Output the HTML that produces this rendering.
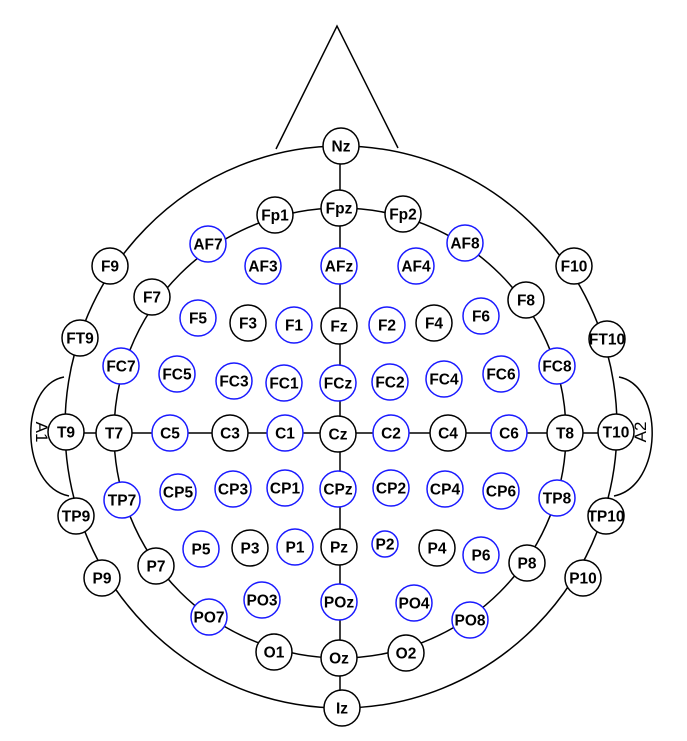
<!DOCTYPE html>
<html><head><meta charset="utf-8"><style>
html,body{margin:0;padding:0;background:#fff;}
svg{display:block;}
text{font-family:"Liberation Sans",Arial,sans-serif;font-weight:bold;font-size:15.5px;}
</style></head><body>
<svg id="map" width="687" height="741" viewBox="0 0 687 741">
<g fill="none" stroke="#000" stroke-width="1.5">
<path d="M276,149 L337,26 L398,148"/>
<ellipse cx="341" cy="427" rx="276" ry="281"/>
<ellipse cx="340" cy="433" rx="226" ry="225"/>
<path d="M64,377 C18,386 20,486 69,496"/>
<path d="M619,377 C665,386 663,486 614,496"/>
<line x1="340" y1="146" x2="340" y2="708"/>
<line x1="66" y1="433" x2="616" y2="433"/>
</g>
<text transform="translate(36,432) rotate(90)" text-anchor="middle" style="font-weight:normal;font-size:17px">A1</text>
<text transform="translate(646,432) rotate(-90)" text-anchor="middle" style="font-weight:normal;font-size:17px">A2</text>
<g id="el"></g>
</svg>
<script>
const names=["Nz","Fpz","Fp1","Fp2","AF7","AF3","AFz","AF4","AF8","F9","F10","F7","F5","F3","F1","Fz","F2","F4","F6","F8","FT9","FT10","FC7","FC5","FC3","FC1","FCz","FC2","FC4","FC6","FC8","T9","T7","C5","C3","C1","Cz","C2","C4","C6","T8","T10","TP7","CP5","CP3","CP1","CPz","CP2","CP4","CP6","TP8","TP9","TP10","P7","P5","P3","P1","Pz","P2","P4","P6","P8","P9","P10","PO7","PO3","POz","PO4","PO8","O1","Oz","O2","Iz"];
const xs=[341,339,275,403,208,263,339,416,465,110,574,152,198,248,294,339,387,434,481,526,80,607,121,177,234,284,338,390,444,501,557,66,114,170,230,285,338,391,448,509,565,616,122,178,233,285,338,391,445,501,557,76,606,156,201,250,295,339,385,437,481,527,102,583,209,262,339,414,470,274,339,406,342];
const ys=[146,208,215,214,244,266,266,266,243,266,266,297,318,323,325,326,325,323,316,300,338,339,366,374,381,383,383,382,379,374,366,432,433,433,433,433,434,433,433,433,433,432,500,492,489,488,489,488,489,491,498,516,516,566,549,548,547,547,544,548,555,563,578,578,617,600,602,603,620,652,658,653,708];
const blue=["AF7","AF3","AFz","AF4","AF8","F5","F1","F2","F6","FC7","FC5","FC3","FC1","FCz","FC2","FC4","FC6","FC8","C5","C1","C2","C6","TP7","CP5","CP3","CP1","CPz","CP2","CP4","CP6","TP8","P5","P1","P2","P6","PO7","PO3","POz","PO4","PO8"];
const g=document.getElementById('el');
const NS='http://www.w3.org/2000/svg';
names.forEach((n,i)=>{
  const grp=document.createElementNS(NS,'g');
  
  
  const c=document.createElementNS(NS,'circle');
  
  
  c.setAttribute('cx',xs[i]);c.setAttribute('cy',ys[i]);
  c.setAttribute('r',n==="P2"?13:18);
  c.setAttribute('fill','#fff');
  c.setAttribute('stroke',blue.includes(n)?'#1a1aff':'#000');
  c.setAttribute('stroke-width','1.5');
  const t=document.createElementNS(NS,'text');
  
  
  t.setAttribute('x',xs[i]);t.setAttribute('y',ys[i]+5.5);
  t.setAttribute('text-anchor','middle');
  t.textContent=n;
  grp.appendChild(c);grp.appendChild(t);g.appendChild(grp);
});
</script>
</body></html>
